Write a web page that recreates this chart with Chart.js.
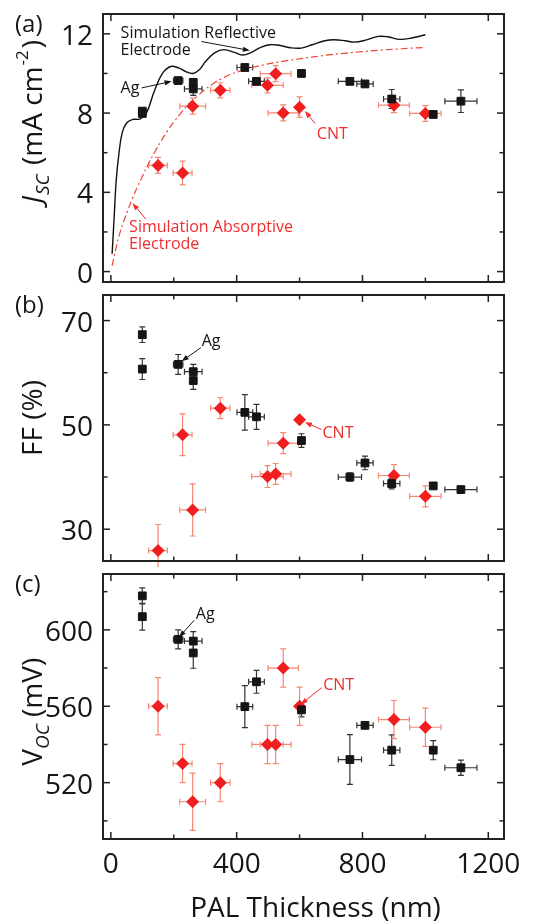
<!DOCTYPE html>
<html>
<head>
<meta charset="utf-8">
<script src="https://cdn.jsdelivr.net/npm/chart.js@4.4.1/dist/chart.umd.min.js"></script>
<style>
  html, body { margin: 0; padding: 0; background: #fff; }
  #wrap { position: relative; width: 544px; height: 922px; overflow: hidden; }
  canvas { position: absolute; left: 0; }
</style>
</head>
<body>
<div id="wrap">
  <canvas id="jscChart" width="544" height="288" style="top:0"></canvas>
  <canvas id="ffChart" width="544" height="279" style="top:288px"></canvas>
  <canvas id="vocChart" width="544" height="360" style="top:567px"></canvas>
</div>
<script>
// PAL thickness (nm) of the Ag-electrode devices and their spread
const agThickness    = [100, 100, 214, 262, 262, 426, 463, 606, 760, 808, 893, 1025, 1113];
const agThicknessErr = [0, 0, 15, 28, 0, 25, 25, 0, 37, 26, 26, 0, 51];
const agJsc    = [8.1, 7.98, 9.64, 9.22, 9.55, 10.3, 9.6, 10.0, 9.6, 9.47, 8.71, 7.93, 8.6];
const agJscErr = [0.15, 0.1, 0.15, 0.33, 0.15, 0.12, 0.12, 0, 0.1, 0.15, 0.48, 0, 0.57];
const agFF     = [67.3, 60.7, 61.6, 60.2, 58.5, 52.4, 51.55, 47.0, 40.0, 42.7, 38.75, 38.3, 37.6];
const agFFErr  = [1.5, 2.0, 1.9, 1.4, 1.7, 3.4, 2.4, 1.3, 0.8, 1.3, 1.0, 0, 0.5];
const agVoc    = [617.8, 606.9, 595, 594.1, 587.9, 559.8, 572.8, 558.1, 532.1, 550, 537, 537, 527.8];
const agVocErr = [4.2, 7, 5, 5, 8, 11, 6, 3.7, 13, 1, 8, 5, 4];

// CNT-electrode devices
const cntThickness    = [150, 228, 260, 348, 498, 524, 548, 600, 900, 1000];
const cntThicknessErr = [30, 30, 41, 31, 50, 49, 48, 0, 49, 50];
const cntJsc    = [5.36, 4.98, 8.35, 9.15, 9.40, 9.99, 8.01, 8.30, 8.40, 7.98];
const cntJscErr = [0.4, 0.6, 0.4, 0.38, 0.38, 0.4, 0.4, 0.52, 0.38, 0.4];
const cntFF     = [25.9, 48.1, 33.7, 53.2, 40.1, 40.6, 46.5, 51.0, 40.3, 36.3];
const cntFFErr  = [5.0, 4.0, 5.0, 2.0, 2.1, 2.0, 2.0, 0, 2.1, 2.0];
const cntVoc    = [560, 530, 510, 520, 540, 540, 580, 560, 553, 549];
const cntVocErr = [15, 10, 15, 10, 10, 10, 10, 10, 10, 10];

// simulated Jsc curves
const reflectiveThickness = [4, 10, 17, 26, 36, 50, 70, 92, 113, 138, 164, 190, 215, 240, 261, 282, 301, 331, 360, 395, 420, 445, 475, 505, 535, 570, 605, 640, 680, 710, 745, 775, 810, 850, 880, 920, 960, 1000];
const reflectiveJsc       = [0.9, 2.6, 4.6, 6.0, 7.0, 7.5, 7.68, 7.7, 8.0, 9.1, 10.0, 10.35, 10.28, 10.08, 10.0, 10.2, 10.6, 11.05, 11.2, 11.05, 10.93, 11.05, 11.3, 11.45, 11.42, 11.3, 11.28, 11.45, 11.65, 11.7, 11.65, 11.58, 11.68, 11.87, 11.85, 11.72, 11.8, 11.95];
const absorptiveThickness = [4, 15, 26, 40, 55, 70, 85, 100, 120, 140, 160, 180, 200, 225, 250, 275, 300, 325, 350, 380, 410, 450, 500, 550, 600, 650, 700, 750, 800, 850, 900, 950, 1000];
const absorptiveJsc       = [0.3, 1.1, 1.8, 2.5, 3.15, 3.75, 4.3, 4.8, 5.45, 6.05, 6.6, 7.1, 7.55, 8.05, 8.5, 8.85, 9.2, 9.48, 9.72, 9.95, 10.12, 10.3, 10.48, 10.62, 10.74, 10.85, 10.95, 11.03, 11.1, 11.17, 11.22, 11.27, 11.31];

// tick labels
const xTickLabels   = [0, 400, 800, 1200];
const jscTickLabels = [0, 4, 8, 12];
const ffTickLabels  = [30, 50, 70];
const vocTickLabels = [520, 560, 600];

const FONT = '"Open Sans", "Noto Sans", sans-serif';
const RED = 'rgb(240,30,30)';
const RED_TEXT = 'rgb(240,45,45)';
const RED_ERR = 'rgb(245,135,115)';
const INK = '#151515';

function pointsOf(xs, ys) {
  return xs.map((x, i) => ({ x: x, y: ys[i] }));
}

function agDataset(values, errs) {
  return {
    label: 'Ag', data: pointsOf(agThickness, values),
    xErr: agThicknessErr, yErr: errs, errColor: '#333',
    pointStyle: 'rect', pointRadius: 5.5, pointHoverRadius: 5.5,
    backgroundColor: INK, borderColor: INK, borderWidth: 1, order: 1
  };
}

function cntDataset(values, errs) {
  return {
    label: 'CNT', data: pointsOf(cntThickness, values),
    xErr: cntThicknessErr, yErr: errs, errColor: RED_ERR,
    pointStyle: 'rectRot', pointRadius: 6.5, pointHoverRadius: 6.5,
    backgroundColor: RED, borderColor: RED, borderWidth: 0, order: 1
  };
}

const errorBarPlugin = {
  id: 'errorBars',
  beforeDatasetsDraw(chart) {
    const ctx = chart.ctx, xs = chart.scales.x, ys = chart.scales.y;
    chart.data.datasets.forEach(ds => {
      if (!ds.xErr && !ds.yErr) return;
      ctx.save();
      ctx.strokeStyle = ds.errColor;
      ctx.lineWidth = 1.2;
      ds.data.forEach((p, j) => {
        const px = xs.getPixelForValue(p.x), py = ys.getPixelForValue(p.y);
        const ex = ds.xErr ? ds.xErr[j] : 0, ey = ds.yErr ? ds.yErr[j] : 0;
        const cap = 3;
        ctx.beginPath();
        if (ex) {
          const l = xs.getPixelForValue(p.x - ex), r = xs.getPixelForValue(p.x + ex);
          ctx.moveTo(l, py); ctx.lineTo(r, py);
          ctx.moveTo(l, py - cap); ctx.lineTo(l, py + cap);
          ctx.moveTo(r, py - cap); ctx.lineTo(r, py + cap);
        }
        if (ey) {
          const t = ys.getPixelForValue(p.y + ey), b = ys.getPixelForValue(p.y - ey);
          ctx.moveTo(px, t); ctx.lineTo(px, b);
          ctx.moveTo(px - cap, t); ctx.lineTo(px + cap, t);
          ctx.moveTo(px - cap, b); ctx.lineTo(px + cap, b);
        }
        ctx.stroke();
      });
      ctx.restore();
    });
  }
};

function drawArrow(ctx, x1, y1, x2, y2, color) {
  const a = Math.atan2(y2 - y1, x2 - x1), L = 7, W = 2.6;
  ctx.strokeStyle = color; ctx.fillStyle = color; ctx.lineWidth = 1;
  ctx.beginPath(); ctx.moveTo(x1, y1); ctx.lineTo(x2 - L * 0.6 * Math.cos(a), y2 - L * 0.6 * Math.sin(a)); ctx.stroke();
  ctx.beginPath();
  ctx.moveTo(x2, y2);
  ctx.lineTo(x2 - L * Math.cos(a) + W * Math.sin(a), y2 - L * Math.sin(a) - W * Math.cos(a));
  ctx.lineTo(x2 - L * Math.cos(a) - W * Math.sin(a), y2 - L * Math.sin(a) + W * Math.cos(a));
  ctx.closePath(); ctx.fill();
}

// frame, inward ticks, titles and annotations of one panel
function panelPlugin(cfg) {
  return {
    id: 'panel',
    afterDraw(chart) {
      const ctx = chart.ctx, area = chart.chartArea;
      const xs = chart.scales.x, ys = chart.scales.y;
      const L = Math.round(area.left), T = Math.round(area.top);
      const R = Math.round(area.right), B = Math.round(area.bottom);
      ctx.save();

      // frame as filled strips
      ctx.fillStyle = '#222';
      ctx.fillRect(L - 1, T - 1, R - L + 2, 2);
      ctx.fillRect(L - 1, B - 1, R - L + 2, 2);
      ctx.fillRect(L - 1, T - 1, 2, B - T + 2);
      ctx.fillRect(R - 1, T - 1, 2, B - T + 2);

      // inward ticks on all four sides
      xs.ticks.forEach(t => {
        const px = xs.getPixelForValue(t.value);
        const len = xTickLabels.includes(t.value) ? 7 : 4.5;
        ctx.fillRect(px - 0.75, B - len, 1.5, len);
        ctx.fillRect(px - 0.75, T, 1.5, len);
      });
      ys.ticks.forEach(t => {
        const py = ys.getPixelForValue(t.value);
        const len = cfg.yLabels.includes(t.value) ? 7 : 4.5;
        ctx.fillRect(L, py - 0.75, len, 1.5);
        ctx.fillRect(R - len, py - 0.75, len, 1.5);
      });

      // panel letter
      ctx.fillStyle = INK;
      ctx.font = '24px ' + FONT;
      ctx.textAlign = 'left';
      ctx.textBaseline = 'alphabetic';
      ctx.fillText(cfg.letter, 15, area.top + 18);

      // rotated y title built from segments
      ctx.save();
      ctx.translate(42, (area.top + area.bottom) / 2 + cfg.titleShift);
      ctx.rotate(-Math.PI / 2);
      let total = 0;
      cfg.title.forEach(s => { ctx.font = s.font + ' ' + FONT; total += ctx.measureText(s.text).width + (s.gap || 0); });
      let cx = -total / 2;
      cfg.title.forEach(s => {
        ctx.font = s.font + ' ' + FONT;
        ctx.fillText(s.text, cx, s.dy || 0);
        cx += ctx.measureText(s.text).width + (s.gap || 0);
      });
      ctx.restore();

      if (cfg.xTitle) {
        ctx.font = '28px ' + FONT;
        ctx.textAlign = 'center';
        ctx.fillText(cfg.xTitle, (area.left + area.right) / 2 + 12, area.bottom + 78);
        ctx.textAlign = 'left';
      }

      // annotations with arrows, anchored in data units
      cfg.notes.forEach(n => {
        ctx.fillStyle = n.color;
        ctx.font = '16px ' + FONT;
        const tx = xs.getPixelForValue(n.at[0]), ty = ys.getPixelForValue(n.at[1]);
        n.lines.forEach((line, k) => ctx.fillText(line, tx, ty + k * 17));
        drawArrow(ctx, xs.getPixelForValue(n.from[0]), ys.getPixelForValue(n.from[1]),
          xs.getPixelForValue(n.to[0]), ys.getPixelForValue(n.to[1]), n.color);
      });
      ctx.restore();
    }
  };
}

function makePanel(id, cfg) {
  return new Chart(document.getElementById(id), {
    type: 'scatter',
    data: { datasets: cfg.datasets },
    options: {
      responsive: false,
      animation: false,
      events: [],
      layout: { padding: cfg.padding },
      plugins: { legend: { display: false }, tooltip: { enabled: false } },
      scales: {
        x: {
          type: 'linear', min: -25, max: 1250, display: cfg.showX,
          grid: { display: false, drawTicks: false },
          border: { display: false },
          ticks: {
            stepSize: 200, includeBounds: false, autoSkip: false, maxRotation: 0,
            padding: 9, color: INK, font: { family: FONT, size: 28 },
            callback: v => xTickLabels.includes(v) ? String(v) : ''
          },
          afterFit: s => { s.height = cfg.xAxisHeight || 0; s.paddingLeft = 0; s.paddingRight = 0; }
        },
        y: {
          type: 'linear', position: 'left', min: cfg.yMin, max: cfg.yMax,
          grid: { display: false, drawTicks: false },
          border: { display: false },
          ticks: {
            stepSize: cfg.yStep, includeBounds: false, autoSkip: false,
            padding: 10, labelOffset: 3, color: INK, font: { family: FONT, size: 28 },
            callback: v => cfg.yLabels.includes(v) ? String(v) : ''
          },
          afterFit: s => { s.width = 103; s.paddingTop = 0; s.paddingBottom = 0; }
        }
      }
    },
    plugins: [errorBarPlugin, panelPlugin(cfg)]
  });
}

makePanel('jscChart', {
  padding: { top: 14, bottom: 5, left: 0, right: 40 },
  showX: false, yMin: -0.5, yMax: 13, yStep: 2, yLabels: jscTickLabels,
  letter: '(a)', titleShift: -26,
  title: [
    { text: 'J', font: 'italic 28px', gap: 1 },
    { text: 'SC', font: 'italic 19px', dy: 7, gap: 2 },
    { text: ' (mA cm', font: '28px', gap: 1 },
    { text: '-2', font: '17px', dy: -14, gap: 2 },
    { text: ')', font: '28px' }
  ],
  notes: [
    { lines: ['Simulation Reflective', 'Electrode'], color: INK, at: [31, 11.8], from: [288, 11.61], to: [442, 11.16] },
    { lines: ['Ag'], color: INK, at: [31, 9.03], from: [98, 9.27], to: [193, 9.6] },
    { lines: ['CNT'], color: RED_TEXT, at: [655, 6.67], from: [649, 7.48], to: [617, 8.1] },
    { lines: ['Simulation Absorptive', 'Electrode'], color: RED_TEXT, at: [58, 1.98], from: [111, 2.65], to: [69, 3.45] }
  ],
  datasets: [
    {
      label: 'Simulation Reflective Electrode', data: pointsOf(reflectiveThickness, reflectiveJsc),
      showLine: true, pointRadius: 0, borderColor: '#111', borderWidth: 1.4, tension: 0.4, order: 2
    },
    {
      label: 'Simulation Absorptive Electrode', data: pointsOf(absorptiveThickness, absorptiveJsc),
      showLine: true, pointRadius: 0, borderColor: 'rgb(240,70,50)', borderWidth: 1.2,
      borderDash: [7, 3, 2, 3], tension: 0.4, order: 2
    },
    agDataset(agJsc, agJscErr),
    cntDataset(cntJsc, cntJscErr)
  ]
});

makePanel('ffChart', {
  padding: { top: 5, bottom: 5, left: 0, right: 40 },
  showX: false, yMin: 24, yMax: 75, yStep: 10, yLabels: ffTickLabels,
  letter: '(b)', titleShift: -9.5,
  title: [{ text: 'FF (%)', font: '28px' }],
  notes: [
    { lines: ['Ag'], color: INK, at: [289, 65.05], from: [286, 64.8], to: [225, 62.2] },
    { lines: ['CNT'], color: RED_TEXT, at: [673, 47.4], from: [670, 49.1], to: [617, 50.5] }
  ],
  datasets: [agDataset(agFF, agFFErr), cntDataset(cntFF, cntFFErr)]
});

makePanel('vocChart', {
  padding: { top: 3, bottom: 0, left: 0, right: 40 },
  showX: true, xAxisHeight: 88, yMin: 490.5, yMax: 629.5, yStep: 20, yLabels: vocTickLabels,
  letter: '(c)', titleShift: 5.5, xTitle: 'PAL Thickness (nm)',
  title: [
    { text: 'V', font: '28px' },
    { text: 'OC', font: 'italic 19px', dy: 7 },
    { text: ' (mV)', font: '28px' }
  ],
  notes: [
    { lines: ['Ag'], color: INK, at: [270, 605.7], from: [265, 605], to: [217, 596.2] },
    { lines: ['CNT'], color: RED_TEXT, at: [675, 568.5], from: [670, 569.7], to: [604, 561] }
  ],
  datasets: [agDataset(agVoc, agVocErr), cntDataset(cntVoc, cntVocErr)]
});
</script>
</body>
</html>
